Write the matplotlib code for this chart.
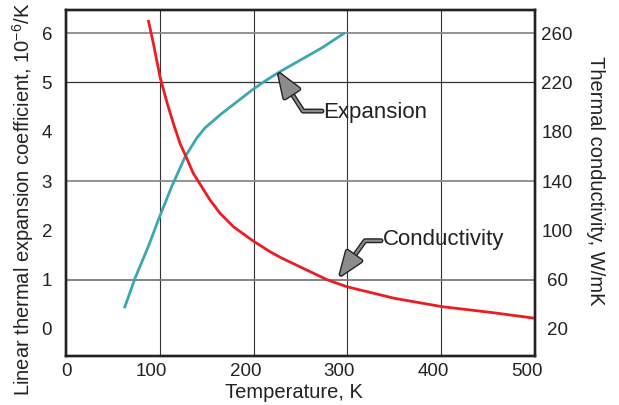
import matplotlib
matplotlib.use('Agg')
import matplotlib.pyplot as plt
import matplotlib.patheffects as pe
from matplotlib.transforms import ScaledTranslation

plt.rcParams['font.family'] = ['Liberation Sans', 'DejaVu Sans']
plt.rcParams['mathtext.fontset'] = 'custom'
plt.rcParams['mathtext.rm'] = 'Liberation Sans'

# linear thermal expansion, 10^-6/K (left axis)
exp_T = [62.2, 73.6, 87.7, 98.4, 112.7, 126.9, 139.3, 148.2, 166.0, 183.7,
         198.6, 212.2, 226.3, 251.3, 272.6, 297.4]
exp_a = [0.42, 1.03, 1.67, 2.21, 2.89, 3.49, 3.87, 4.08, 4.37, 4.63,
         4.85, 5.03, 5.20, 5.47, 5.70, 6.01]

# thermal conductivity, W/mK (right axis)
cond_T = [87.7, 93.1, 100.2, 107.4, 114.4, 121.5, 128.7, 135.7, 144.7, 153.5,
          164.2, 178.4, 198.0, 217.5, 230.0, 278.8, 299.3, 350, 400.9, 455.5, 500]
cond_k = [270.7, 251.8, 224.7, 204.4, 186.9, 170.7, 158.5, 146.3, 135.4, 124.7,
          113.9, 103.0, 92.2, 82.7, 77.5, 59.8, 54.3, 44.9, 38.1, 33.2, 28.7]

x_ticks = [0, 100, 200, 300, 400, 500]
left_ticks = [0, 1, 2, 3, 4, 5, 6]
right_ticks = [20, 60, 100, 140, 180, 220, 260]
h_grid = [1, 3, 5, 6]
h_grid_col = ['#7a7a7a', '#8a8a8a', '#333333', '#8a8a8a']

red = '#ec1c24'
teal = '#3ca7ad'
ink = '#222222'

fig = plt.figure(figsize=(6.19, 4.05), dpi=100)
ax = fig.add_axes([66 / 619, 49 / 405, 469 / 619, 346 / 405])
ax2 = ax.twinx()

ymin, ymax = -0.548, 6.47
ax.set_xlim(0, 500)
ax.set_ylim(ymin, ymax)
ax2.set_ylim(20 + 40 * ymin, 20 + 40 * ymax)

ax.set_xticks(x_ticks)
ax.set_yticks(left_ticks)
ax2.set_yticks(right_ticks)

for x in x_ticks[1:-1]:
    ax.axvline(x, color='#333333', lw=0.8, zorder=0)
for y, c in zip(h_grid, h_grid_col):
    ax.axhline(y, color=c, lw=1.3 if c != '#333333' else 0.9, zorder=0)

ax.plot(exp_T, exp_a, color=teal, lw=2, solid_capstyle='butt')
ax2.plot(cond_T, cond_k, color=red, lw=2, solid_capstyle='butt')

for a in (ax, ax2):
    for s in a.spines.values():
        s.set_linewidth(1.7)
        s.set_color(ink)

ax.tick_params(axis='x', length=0, pad=5, labelsize=13.5, colors=ink)
ax.tick_params(axis='y', length=0, pad=10, labelsize=13.5, colors=ink)
ax2.tick_params(axis='y', length=0, pad=16, labelsize=13.5, colors=ink)
for lab in ax2.get_yticklabels():
    lab.set_ha('center')
# the x labels in the original sit a little left of their grid lines
shift = ScaledTranslation(-8 / 100, 0, fig.dpi_scale_trans)
for lab in ax.get_xticklabels()[1:]:
    lab.set_transform(lab.get_transform() + shift)

ax.set_xlabel('Temperature, K', fontsize=14.5, color=ink, va='top')
ax.xaxis.set_label_coords(0.485, -0.078)
ax.set_ylabel('Linear thermal expansion coefficient, 10$^{-6}$/K', fontsize=14.5,
              color=ink, va='center')
ax.yaxis.set_label_coords(-0.092, 0.452)
ax2.set_ylabel('Thermal conductivity, W/mK', fontsize=14.5, color=ink,
               rotation=270, va='center')
ax2.yaxis.set_label_coords(1.128, 0.506)

arrow_fx = [pe.Stroke(linewidth=3.6, foreground=ink), pe.Normal()]

ax.text(274, 4.27, 'Expansion', fontsize=16, color=ink, va='baseline')
ax.annotate('', xy=(226, 5.21), xytext=(272.9, 4.42),
            arrowprops=dict(arrowstyle='-|>,head_length=1.6,head_width=0.6',
                            connectionstyle='angle,angleA=0,angleB=122.7,rad=0',
                            color='#8c8c8c', lw=1.6, shrinkA=0, shrinkB=0,
                            path_effects=arrow_fx))

ax.text(338.3, 1.70, 'Conductivity', fontsize=16, color=ink, va='baseline')
ax.annotate('', xy=(291.4, 1.06), xytext=(335.8, 1.79),
            arrowprops=dict(arrowstyle='-|>,head_length=1.6,head_width=0.6',
                            connectionstyle='angle,angleA=0,angleB=54.5,rad=0',
                            color='#8c8c8c', lw=1.6, shrinkA=0, shrinkB=0,
                            path_effects=arrow_fx))

fig.savefig('out.png', dpi=100)
